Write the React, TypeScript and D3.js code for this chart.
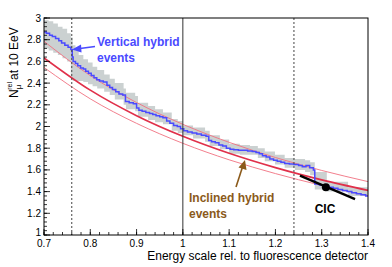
import * as d3 from 'd3';

// axes
const xTicks = [0.7, 0.8, 0.9, 1.0, 1.1, 1.2, 1.3, 1.4];
const xTickLabels = ['0.7', '0.8', '0.9', '1', '1.1', '1.2', '1.3', '1.4'];
const yTicks = [1, 1.2, 1.4, 1.6, 1.8, 2, 2.2, 2.4, 2.6, 2.8, 3];
const yTickLabels = ['1', '1.2', '1.4', '1.6', '1.8', '2', '2.2', '2.4', '2.6', '2.8', '3'];

// vertical hybrid events: step line
const stepE = [0.7, 0.705, 0.712, 0.718, 0.725, 0.732, 0.738, 0.745, 0.752, 0.758, 0.761, 0.763, 0.768, 0.773, 0.779, 0.785, 0.79, 0.796, 0.802, 0.808, 0.814, 0.82, 0.828, 0.836, 0.842, 0.848, 0.855, 0.862, 0.87, 0.876, 0.884, 0.893, 0.9, 0.905, 0.912, 0.92, 0.928, 0.935, 0.942, 0.95, 0.957, 0.965, 0.972, 0.98, 0.988, 0.995, 1.002, 1.01, 1.02, 1.03, 1.04, 1.05, 1.056, 1.062, 1.07, 1.078, 1.086, 1.094, 1.102, 1.11, 1.12, 1.13, 1.14, 1.15, 1.158, 1.165, 1.172, 1.18, 1.188, 1.196, 1.204, 1.212, 1.22, 1.23, 1.24, 1.25, 1.258, 1.266, 1.274, 1.282, 1.285, 1.295, 1.305, 1.315, 1.325, 1.335, 1.345, 1.355, 1.365, 1.375, 1.385, 1.395, 1.4];
const stepN = [2.87, 2.86, 2.84, 2.83, 2.81, 2.79, 2.77, 2.75, 2.73, 2.71, 2.64, 2.6, 2.58, 2.56, 2.54, 2.53, 2.51, 2.49, 2.47, 2.45, 2.43, 2.42, 2.41, 2.38, 2.36, 2.34, 2.32, 2.3, 2.29, 2.23, 2.22, 2.21, 2.17, 2.15, 2.14, 2.13, 2.12, 2.11, 2.1, 2.09, 2.08, 2.05, 2.03, 2.01, 2.0, 1.98, 1.96, 1.95, 1.94, 1.93, 1.92, 1.91, 1.87, 1.86, 1.85, 1.83, 1.82, 1.8, 1.79, 1.785, 1.78, 1.78, 1.775, 1.77, 1.76, 1.75, 1.73, 1.72, 1.7, 1.69, 1.68, 1.67, 1.66, 1.655, 1.65, 1.64, 1.63, 1.64, 1.62, 1.6, 1.47, 1.46, 1.45, 1.44, 1.43, 1.42, 1.41, 1.4, 1.39, 1.38, 1.37, 1.36, 1.355];

// vertical hybrid events: systematic band
const bandE = [0.7, 0.71, 0.72, 0.73, 0.74, 0.75, 0.758, 0.762, 0.768, 0.775, 0.785, 0.795, 0.805, 0.815, 0.83, 0.842, 0.853, 0.872, 0.877, 0.897, 0.903, 0.925, 0.94, 0.957, 0.976, 0.989, 1.0, 1.022, 1.048, 1.058, 1.08, 1.1, 1.123, 1.145, 1.162, 1.177, 1.199, 1.22, 1.242, 1.264, 1.275, 1.285, 1.311, 1.357, 1.4];
const bandHi = [2.98, 2.97, 2.95, 2.92, 2.9, 2.86, 2.82, 2.75, 2.7, 2.66, 2.62, 2.59, 2.55, 2.52, 2.48, 2.44, 2.4, 2.35, 2.31, 2.28, 2.22, 2.19, 2.16, 2.13, 2.07, 2.05, 2.01, 1.99, 1.96, 1.92, 1.88, 1.84, 1.83, 1.82, 1.8, 1.77, 1.74, 1.71, 1.7, 1.69, 1.67, 1.58, 1.49, 1.44, 1.4];
const bandLo = [2.72, 2.7, 2.68, 2.66, 2.63, 2.6, 2.45, 2.42, 2.42, 2.42, 2.41, 2.39, 2.37, 2.35, 2.32, 2.29, 2.25, 2.2, 2.16, 2.14, 2.09, 2.06, 2.04, 2.02, 1.96, 1.94, 1.92, 1.89, 1.86, 1.82, 1.79, 1.75, 1.74, 1.74, 1.71, 1.68, 1.65, 1.62, 1.6, 1.58, 1.55, 1.42, 1.4, 1.36, 1.32];

// inclined hybrid fit (central line and its band)
const fitE = [0.7, 0.8, 0.9, 1.0, 1.1, 1.2, 1.3, 1.4];
const fitMid = [2.633, 2.335, 2.1, 1.91, 1.753, 1.621, 1.508, 1.411];
const fitHi = [2.785, 2.469, 2.221, 2.02, 1.854, 1.714, 1.595, 1.492];
const fitLo = [2.544, 2.255, 2.029, 1.845, 1.693, 1.566, 1.457, 1.363];

// CIC segment
const cicE = [1.253, 1.309, 1.372];
const cicN = [1.547, 1.44, 1.33];

const dashedE = [0.76, 1.24];
const solidE = [1.0];

const W = 392;
const H = 267;
const font = "'Liberation Sans', Arial, Helvetica, sans-serif";

export default function App() {
  const x = d3.scaleLinear().domain([0.7, 1.4]).range([44, 368]);
  const y = d3.scaleLinear().domain([1, 3]).range([235, 18]);

  const band = d3.area<number>()
    .x((_, i) => x(bandE[i]))
    .y0((_, i) => y(bandLo[i]))
    .y1((d) => y(d))
    .curve(d3.curveStepAfter);
  const step = d3.line<number>()
    .x((_, i) => x(stepE[i]))
    .y((d) => y(d))
    .curve(d3.curveStepAfter);
  const fit = d3.line<number>()
    .x((_, i) => x(fitE[i]))
    .y((d) => y(d))
    .curve(d3.curveMonotoneX);

  const xMinor = d3.range(0.7, 1.4001, 0.02);
  const yMinor = d3.range(1, 3.0001, 0.04);
  const [x0, x1] = x.range();
  const [y0, y1] = y.range();

  return (
    <svg width={W} height={H} style={{ position: 'absolute', left: 0, top: 0, background: '#fff' }}
      fontFamily={font}>
      <defs>
        <clipPath id="plot">
          <rect x={x0} y={y1} width={x1 - x0} height={y0 - y1} />
        </clipPath>
      </defs>

      <g clipPath="url(#plot)">
        <path d={band(bandHi) || ''} fill="#cbd1d1" />
        <path d={fit(fitHi) || ''} fill="none" stroke="#f07080" strokeWidth={0.9} />
        <path d={fit(fitLo) || ''} fill="none" stroke="#f07080" strokeWidth={0.9} />
        <path d={fit(fitMid) || ''} fill="none" stroke="#e0304a" strokeWidth={1.7} />
        <path d={step(stepN) || ''} fill="none" stroke="#4a4aff" strokeWidth={1.5} />
        <line x1={x(cicE[0])} y1={y(cicN[0])} x2={x(cicE[2])} y2={y(cicN[2])}
          stroke="#000" strokeWidth={2.4} />
        <circle cx={x(cicE[1])} cy={y(cicN[1])} r={4} fill="#000" />
      </g>

      {dashedE.map((e) => (
        <line key={e} x1={x(e)} x2={x(e)} y1={y1} y2={y0} stroke="#444" strokeWidth={1}
          strokeDasharray="2,2" />
      ))}
      {solidE.map((e) => (
        <line key={e} x1={x(e)} x2={x(e)} y1={y1} y2={y0} stroke="#333" strokeWidth={1} />
      ))}

      {/* frame */}
      <rect x={x0} y={y1} width={x1 - x0} height={y0 - y1} fill="none" stroke="#000" strokeWidth={1} />

      {/* x ticks */}
      {xMinor.map((v, i) => (
        <line key={'xm' + i} x1={x(v)} x2={x(v)} y1={y0} y2={y0 - 3} stroke="#000" strokeWidth={0.8} />
      ))}
      {xTicks.map((v, i) => (
        <g key={'x' + i}>
          <line x1={x(v)} x2={x(v)} y1={y0} y2={y0 - 6} stroke="#000" strokeWidth={0.8} />
          <text x={x(v)} y={y0 + 11.5} fontSize={10} textAnchor="middle">{xTickLabels[i]}</text>
        </g>
      ))}

      {/* y ticks */}
      {yMinor.map((v, i) => (
        <line key={'ym' + i} x1={x0} x2={x0 + 3} y1={y(v)} y2={y(v)} stroke="#000" strokeWidth={0.8} />
      ))}
      {yTicks.map((v, i) => (
        <g key={'y' + i}>
          <line x1={x0} x2={x0 + 6} y1={y(v)} y2={y(v)} stroke="#000" strokeWidth={0.8} />
          <text x={x0 - 3} y={i === 0 ? y(v) + 1 : y(v) + 3.5} fontSize={10} textAnchor="end">{yTickLabels[i]}</text>
        </g>
      ))}

      {/* axis titles */}
      <text x={368} y={260} fontSize={12} textAnchor="end">Energy scale rel. to fluorescence detector</text>
      <text transform="translate(18,98) rotate(-90)" fontSize={12} textAnchor="start">
        <tspan>N</tspan>
        <tspan dy={3} fontSize={8}>μ</tspan>
        <tspan dx={-5} dy={-9} fontSize={7}>rel</tspan>
        <tspan dy={6} dx={2}>at 10 EeV</tspan>
      </text>

      {/* annotations */}
      <text x={97} y={46} fontSize={12} fontWeight="bold" fill="#4a4aff">Vertical hybrid</text>
      <text x={97} y={62} fontSize={12} fontWeight="bold" fill="#4a4aff">events</text>
      <line x1={95} y1={46.5} x2={80} y2={48.5} stroke="#4a4aff" strokeWidth={1.6} />
      <path d="M72,49.5 L81,44.5 L81.5,52.5 Z" fill="#4a4aff" />

      <text x={189} y={202} fontSize={12} fontWeight="bold" fill="#8b5a1b">Inclined hybrid</text>
      <text x={189} y={218} fontSize={12} fontWeight="bold" fill="#8b5a1b">events</text>
      <line x1={236} y1={187} x2={242.5} y2={167} stroke="#8b5a1b" strokeWidth={1.6} />
      <path d="M245,160 L246.5,170 L238.5,167.5 Z" fill="#8b5a1b" />

      <text x={325} y={213} fontSize={12} fontWeight="bold" textAnchor="middle">CIC</text>
    </svg>
  );
}
